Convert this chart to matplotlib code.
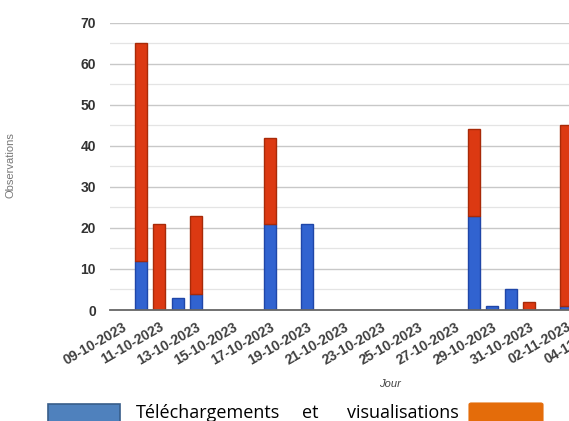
import matplotlib.pyplot as plt
import matplotlib.patches as patches
import numpy as np

# Données (une valeur par jour)
jours = ['09-10-2023', '10-10-2023', '11-10-2023', '12-10-2023', '13-10-2023',
         '14-10-2023', '15-10-2023', '16-10-2023', '17-10-2023', '18-10-2023',
         '19-10-2023', '20-10-2023', '21-10-2023', '22-10-2023', '23-10-2023',
         '24-10-2023', '25-10-2023', '26-10-2023', '27-10-2023', '28-10-2023',
         '29-10-2023', '30-10-2023', '31-10-2023', '01-11-2023', '02-11-2023',
         '03-11-2023', '04-11-2023']
telechargements = [0, 12, 0, 3, 4, 0, 0, 0, 21, 0, 21, 0, 0, 0, 0, 0, 0, 0, 0,
                   23, 1, 5, 0, 0, 1, 0, 0]
visualisations = [0, 53, 21, 0, 19, 0, 0, 0, 21, 0, 0, 0, 0, 0, 0, 0, 0, 0, 0,
                  21, 0, 0, 2, 0, 44, 0, 0]
yticks = [0, 10, 20, 30, 40, 50, 60, 70]

BLUE = '#3163d0'
BLUE_EDGE = '#1f46a8'
RED = '#dc3912'
RED_EDGE = '#a82a08'
W, H = 569, 421

plt.rcParams['font.family'] = ['Liberation Sans', 'DejaVu Sans']

fig = plt.figure(figsize=(W / 100, H / 100), dpi=100)
# axes deliberately runs past the right edge (the reference is cropped)
ax = fig.add_axes([110 / W, 1 - 310 / H, 27.65 * 18.5 / W, (310 - 22.7) / H])

x = np.arange(len(jours))
blue = np.array(telechargements)
red = np.array(visualisations)

# skip empty segments so no edge line shows for zero values
nb = blue > 0
nr = red > 0
ax.bar(x[nb], blue[nb], width=0.65, color=BLUE, edgecolor=BLUE_EDGE, linewidth=1, zorder=3)
ax.bar(x[nr], red[nr], width=0.65, bottom=blue[nr], color=RED, edgecolor=RED_EDGE,
       linewidth=1, zorder=3)

ax.set_xlim(-0.65, 27)
ax.set_ylim(0, 70)

# grid
for v in np.arange(5, 70, 10):
    ax.axhline(v, color='#e4e4e4', lw=0.9, zorder=1)
for v in yticks[1:]:
    ax.axhline(v, color='#c8c8c8', lw=1.0, zorder=1)
ax.axhline(0, color='#666666', lw=1.3, zorder=4, clip_on=False)

for s in ax.spines.values():
    s.set_visible(False)

ax.set_yticks(yticks)
ax.set_yticklabels([str(v) for v in yticks], fontsize=10, weight='bold', color='#333333')
ax.tick_params(axis='y', length=0, pad=10)

ax.set_xticks(x[::2])
ax.set_xticklabels(jours[::2], rotation=30, ha='right', va='top', rotation_mode='anchor',
                   fontsize=10, weight='bold', color='#404040')
ax.tick_params(axis='x', length=0, pad=7)

# titres d'axes
fig.text(390 / W, 1 - 384 / H, 'Jour', ha='center', va='center', fontsize=8,
         style='italic', color='#444444')
fig.text(11 / W, 1 - 165 / H, 'Observations', ha='center', va='center', fontsize=8,
         rotation=90, color='#777777')

# légende (style document, en bas)
fig.patches.append(patches.Rectangle((48 / W, -0.02), 72 / W, (421 - 404) / H + 0.02,
                                     transform=fig.transFigure, facecolor='#4f81bd',
                                     edgecolor='#385d8a', linewidth=1.2))
fig.patches.append(patches.FancyBboxPatch((469 / W, -0.02), 74 / W, (421 - 403) / H + 0.02,
                                          boxstyle='round,pad=0,rounding_size=0.004',
                                          transform=fig.transFigure, facecolor='#e46c0a',
                                          edgecolor='#e46c0a', linewidth=0.8))
base = 1 - 418 / H
fig.text(136 / W, base, 'Téléchargements', ha='left', va='baseline', fontsize=13,
         family='Open Sans', color='black')
fig.text(310 / W, base, 'et', ha='center', va='baseline', fontsize=13,
         family='Open Sans', color='black')
fig.text(459 / W, base, 'visualisations', ha='right', va='baseline', fontsize=13,
         family='Open Sans', color='black')

fig.savefig('out.png', dpi=100)
